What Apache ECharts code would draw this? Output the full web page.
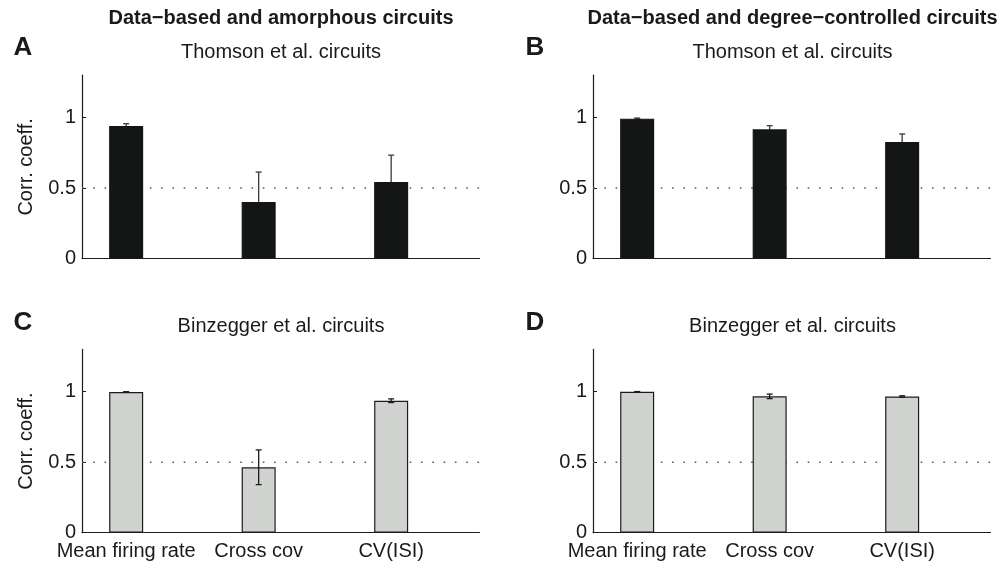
<!DOCTYPE html>
<html>
<head>
<meta charset="utf-8">
<script src="https://cdn.jsdelivr.net/npm/echarts@6/dist/echarts.min.js"></script>
<style>
  html, body { margin: 0; padding: 0; background: #fff; }
  #chart { width: 999px; height: 566px; }
</style>
</head>
<body>
<div id="chart"></div>
<script>
// Measures compared across circuit types
const categories = ['Mean firing rate', 'Cross cov', 'CV(ISI)'];
const positions = [1, 2, 3];

// Correlation coefficients (mean) and their error half-widths per panel
const meanA = [0.94, 0.40, 0.543];
const errA  = [0.016, 0.213, 0.19];
const meanB = [0.992, 0.916, 0.826];
const errB  = [0.004, 0.026, 0.057];
const meanC = [0.998, 0.464, 0.936];
const errC  = [0.002, 0.123, 0.013];
const meanD = [0.999, 0.967, 0.966];
const errD  = [0.002, 0.016, 0.005];

const yTicks = [0, 0.5, 1];
const refLevel = [0.5];

const columnTitles = ['Data\u2212based and amorphous circuits', 'Data\u2212based and degree\u2212controlled circuits'];
const panelLetters = ['A', 'B', 'C', 'D'];
const panelTitles = ['Thomson et al. circuits', 'Thomson et al. circuits', 'Binzegger et al. circuits', 'Binzegger et al. circuits'];
const yName = 'Corr. coeff.';

const FONT = '"Liberation Sans", Arial, Helvetica, sans-serif';
const TEXT = '#1a1a1a';
const XMIN = 2 / 3, XMAX = 11 / 3;

// Dark bars hide the lower half of their error bars, so those are drawn underneath
const panels = [
  { mean: meanA, err: errA, fill: '#141615', edge: '#141615', errColor: '#3a3a3a', errZ: 1.5, left: 82,  top: 75.2,  showX: false, showName: true },
  { mean: meanB, err: errB, fill: '#141615', edge: '#141615', errColor: '#3a3a3a', errZ: 1.5, left: 593, top: 75.2,  showX: false, showName: false },
  { mean: meanC, err: errC, fill: '#d1d3d1', edge: '#1c1c1c', errColor: '#1c1c1c', errZ: 3,   left: 82,  top: 349.4, showX: true,  showName: true },
  { mean: meanD, err: errD, fill: '#d1d3d1', edge: '#1c1c1c', errColor: '#1c1c1c', errZ: 3,   left: 593, top: 349.4, showX: true,  showName: false }
];

const grid = [], xAxis = [], yAxis = [], series = [];

panels.forEach((p, i) => {
  grid.push({ left: p.left, top: p.top, width: 397.5, height: 183.3 });
  xAxis.push({
    type: 'value', gridIndex: i, min: XMIN, max: XMAX,
    splitLine: { show: false },
    axisLine: { show: true, lineStyle: { color: '#1c1c1c', width: 1.2 } },
    axisTick: { show: false },
    axisLabel: {
      show: p.showX, customValues: positions, margin: 9,
      color: TEXT, fontFamily: FONT, fontSize: 20,
      formatter: v => categories[positions.indexOf(Math.round(v))] || ''
    }
  });
  yAxis.push({
    type: 'value', gridIndex: i, min: 0, max: 1.3,
    splitLine: { show: false },
    axisLine: { show: true, lineStyle: { color: '#1c1c1c', width: 1.2 } },
    axisTick: { show: true, inside: true, length: 4, customValues: yTicks, lineStyle: { color: '#1c1c1c' } },
    axisLabel: { customValues: yTicks, margin: 6, color: TEXT, fontFamily: FONT, fontSize: 20 },
    name: p.showName ? yName : '', nameLocation: 'middle', nameGap: 46,
    nameTextStyle: { color: TEXT, fontFamily: FONT, fontSize: 20 }
  });

  // dotted reference level
  series.push({
    type: 'line', xAxisIndex: i, yAxisIndex: i, z: 1,
    data: [[XMIN, refLevel[0]], [XMAX, refLevel[0]]],
    showSymbol: false, symbol: 'none', silent: true,
    lineStyle: { color: '#5a5a5a', width: 1.6, type: [1.6, 9.7] }
  });
  // bars
  series.push({
    type: 'bar', xAxisIndex: i, yAxisIndex: i, z: 2, barWidth: 34,
    data: positions.map((x, k) => [x, p.mean[k]]),
    itemStyle: { color: p.fill, borderColor: p.edge, borderWidth: 1.2 },
    silent: true
  });
  // error bars
  series.push({
    type: 'custom', xAxisIndex: i, yAxisIndex: i, z: p.errZ, silent: true,
    data: positions.map((x, k) => [x, p.mean[k] - p.err[k], p.mean[k] + p.err[k]]),
    renderItem: (params, api) => {
      const lo = api.coord([api.value(0), api.value(1)]);
      const hi = api.coord([api.value(0), api.value(2)]);
      const cap = 3;
      const style = { stroke: p.errColor, lineWidth: 1.3 };
      return {
        type: 'group',
        children: [
          { type: 'line', shape: { x1: lo[0], y1: lo[1], x2: hi[0], y2: hi[1] }, style },
          { type: 'line', shape: { x1: hi[0] - cap, y1: hi[1], x2: hi[0] + cap, y2: hi[1] }, style },
          { type: 'line', shape: { x1: lo[0] - cap, y1: lo[1], x2: lo[0] + cap, y2: lo[1] }, style }
        ]
      };
    }
  });
});

// Column headings, panel letters and panel titles
const textEl = (text, x, y, size, weight) => ({
  type: 'text', x, y,
  style: { text, fill: TEXT, font: `${weight} ${size}px ${FONT}`, textAlign: 'center', textVerticalAlign: 'middle' }
});
const graphic = [
  textEl(columnTitles[0], 281, 18, 20, 'bold'),
  textEl(columnTitles[1], 792.5, 18, 20, 'bold'),
  textEl(panelLetters[0], 23, 47.5, 26, 'bold'),
  textEl(panelLetters[1], 535, 47.5, 26, 'bold'),
  textEl(panelLetters[2], 23, 322.5, 26, 'bold'),
  textEl(panelLetters[3], 535, 322.5, 26, 'bold'),
  textEl(panelTitles[0], 281, 52, 20, 'normal'),
  textEl(panelTitles[1], 792.5, 52, 20, 'normal'),
  textEl(panelTitles[2], 281, 326, 20, 'normal'),
  textEl(panelTitles[3], 792.5, 326, 20, 'normal')
];

const chart = echarts.init(document.getElementById('chart'), null, { renderer: 'canvas' });
chart.setOption({
  animation: false,
  backgroundColor: '#ffffff',
  grid, xAxis, yAxis, series, graphic
});
</script>
</body>
</html>
